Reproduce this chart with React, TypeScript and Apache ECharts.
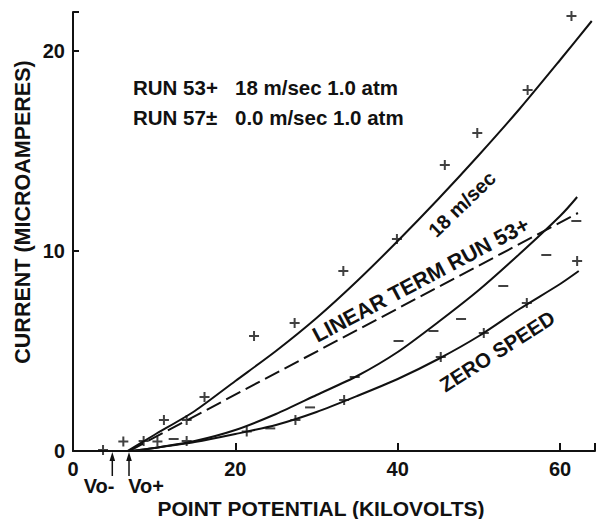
import React, { useEffect, useRef } from "react";
import * as echarts from "echarts";

// ---- Data ----
// Run 53 (18 m/sec) measured points ("+")
const run53X = [3.7, 6.2, 8.7, 11.2, 14.0, 16.2, 22.3, 27.3, 33.3, 39.9, 45.8, 49.8, 56.0, 61.4];
const run53Y = [0.05, 0.47, 0.5, 1.55, 1.55, 2.7, 5.75, 6.4, 9.0, 10.6, 14.3, 15.9, 18.05, 21.75];
// Run 57 (zero speed) positive points ("+")
const zeroPlusX = [10.4, 14.0, 21.4, 27.4, 33.4, 45.3, 50.6, 55.9, 62.1];
const zeroPlusY = [0.47, 0.5, 0.97, 1.55, 2.55, 4.7, 5.9, 7.4, 9.5];
// Run 57 (zero speed) negative points ("-")
const zeroMinusX = [12.4, 24.3, 29.2, 34.7, 40.1, 44.4, 47.8, 53.0, 58.3, 62.0];
const zeroMinusY = [0.6, 1.13, 2.18, 3.7, 5.5, 6.0, 6.6, 8.25, 9.8, 11.5];

// Fitted curves
const fit18X = [6.7, 10, 15, 20, 25, 30, 35, 40, 45, 50, 55, 60, 63.9];
const fit18Y = [0, 0.8, 2.0, 3.5, 5.0, 6.65, 8.5, 10.5, 12.6, 14.8, 17.1, 19.55, 21.5];
const linearX = [6.9, 62.2];
const linearY = [0, 11.9];
const negFitX = [7.2, 10, 15, 20, 25, 30, 35, 40, 45, 50, 55, 60, 62.1];
const negFitY = [0, 0.15, 0.5, 1.05, 1.85, 2.8, 3.75, 4.95, 6.45, 8.05, 9.85, 11.75, 12.7];
const posFitX = [7.2, 10, 15, 20, 25, 30, 35, 40, 45, 50, 55, 60, 62.3];
const posFitY = [0, 0.15, 0.45, 0.85, 1.3, 1.95, 2.75, 3.6, 4.6, 5.75, 7.1, 8.35, 9.0];

const xTickLabels = [0, 20, 40, 60];
const yTickLabels = [0, 10, 20];

const legendRows = [
  ["RUN 53+", "18 m/sec 1.0 atm"],
  ["RUN 57\u00B1", "0.0 m/sec 1.0 atm"],
];

const INK = "#111";
const FONT = "'Liberation Sans', Arial, Helvetica, sans-serif";

const zip = (xs: number[], ys: number[]) => xs.map((x, i) => [x, ys[i]]);

const PLUS = "path://M4,0H6V4H10V6H6V10H4V6H0V4H4Z";
const MINUS = "path://M0,0H10V2H0Z";

export default function App() {
  const ref = useRef<HTMLDivElement>(null);
  useEffect(() => {
    if (!ref.current) return;
    const chart = echarts.init(ref.current, undefined, { renderer: "svg" });

    const lineStyle = { color: INK, width: 2 };
    const curve = (name: string, xs: number[], ys: number[], dashed = false) => ({
      name,
      type: "line",
      data: zip(xs, ys),
      smooth: dashed ? false : 0.25,
      showSymbol: false,
      symbol: "none",
      lineStyle: dashed ? { ...lineStyle, type: [16, 6] } : lineStyle,
      silent: true,
      z: 2,
    });
    const marks = (name: string, xs: number[], ys: number[], symbol: string, size: any) => ({
      name,
      type: "scatter",
      data: zip(xs, ys),
      symbol,
      symbolSize: size,
      itemStyle: { color: INK },
      z: 3,
    });

    const txt = (text: string, x: number, y: number, size: number, extra: any = {}) => ({
      type: "text",
      x,
      y,
      style: {
        text,
        fill: INK,
        font: `bold ${size}px ${FONT}`,
        textAlign: extra.align || "left",
        textVerticalAlign: "middle",
      },
      rotation: extra.rotation || 0,
    });

    const arrow = (x: number) => [
      { type: "line", shape: { x1: x, y1: 476, x2: x, y2: 456 }, style: { stroke: INK, lineWidth: 1.5 } },
      { type: "polygon", shape: { points: [[x, 452], [x - 2.8, 461], [x + 2.8, 461]] }, style: { fill: INK } },
    ];

    const deg = Math.PI / 180;

    chart.setOption({
      animation: false,
      backgroundColor: "#fff",
      grid: { left: 73, right: 0, top: 12, bottom: 68, containLabel: false },
      xAxis: {
        type: "value",
        min: 0,
        max: 64.3,
        interval: 20,
        splitLine: { show: false },
        axisLine: { lineStyle: { color: INK, width: 2 } },
        axisTick: { inside: true, length: 8, lineStyle: { color: INK, width: 2 } },
        axisLabel: {
          color: INK,
          fontSize: 20,
          fontWeight: "bold",
          fontFamily: FONT,
          margin: 8,
          formatter: (v: number) => (xTickLabels.includes(v) ? String(v) : ""),
        },
      },
      yAxis: {
        type: "value",
        min: 0,
        max: 21.95,
        interval: 10,
        splitLine: { show: false },
        axisLine: { lineStyle: { color: INK, width: 2 } },
        axisTick: { inside: true, length: 6, lineStyle: { color: INK, width: 2 } },
        axisLabel: {
          color: INK,
          fontSize: 20,
          fontWeight: "bold",
          fontFamily: FONT,
          margin: 8,
          formatter: (v: number) => (yTickLabels.includes(v) ? String(v) : ""),
        },
      },
      series: [
        curve("18 m/sec", fit18X, fit18Y),
        curve("Linear term run 53+", linearX, linearY, true),
        curve("Zero speed (-)", negFitX, negFitY),
        curve("Zero speed (+)", posFitX, posFitY),
        marks("Run 53 +", run53X, run53Y, PLUS, 10),
        marks("Run 57 +", zeroPlusX, zeroPlusY, PLUS, 10),
        marks("Run 57 -", zeroMinusX, zeroMinusY, MINUS, [10, 2]),
      ],
      graphic: [
        txt(legendRows[0][0], 133, 87, 20.5),
        txt(legendRows[0][1], 235, 87, 20.5),
        txt(legendRows[1][0], 133, 117, 20.5),
        txt(legendRows[1][1], 235, 117, 20.5),
        txt("18 m/sec", 462, 204, 20, { align: "center", rotation: 44 * deg }),
        txt("LINEAR TERM RUN 53+", 421, 280, 21.5, { align: "center", rotation: 28 * deg }),
        txt("ZERO SPEED", 497, 351, 20.5, { align: "center", rotation: 32.5 * deg }),
        txt("CURRENT (MICROAMPERES)", 23, 212, 21.5, { align: "center", rotation: 90 * deg }),
        txt("POINT POTENTIAL (KILOVOLTS)", 321, 508, 21, { align: "center" }),
        ...arrow(112.3),
        ...arrow(129),
        txt("Vo-", 99, 486, 20, { align: "center" }),
        txt("Vo+", 146, 486, 20, { align: "center" }),
      ],
    });
    return () => chart.dispose();
  }, []);
  return (
    <div
      ref={ref}
      style={{ position: "fixed", left: 0, top: 0, width: 598, height: 519, background: "#fff" }}
    />
  );
}
